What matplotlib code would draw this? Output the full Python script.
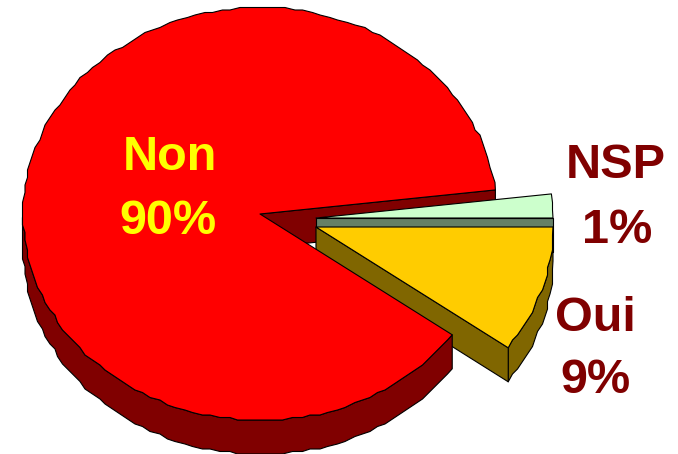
import numpy as np
import matplotlib.pyplot as plt

plt.rcParams["font.family"] = ["Liberation Sans", "DejaVu Sans"]

# apparent sweep of each slice on the tilted pie, in degrees
NON_SWEEP = 317.5
OUI_SWEEP = 35.8
NSP_SWEEP = 6.7

NON_LABEL = ["Non", "90%"]
OUI_LABEL = ["Oui", "9%"]
NSP_LABEL = ["NSP", "1%"]

RX, RY = 237, 206.5
DEPTH = 34
LW = 0.8


def arc(cx, cy, a0, a1, rx=RX):
    # outline snapped to a grid, the original has the same rough edge
    n = max(int(abs(a1 - a0) / 2.2), 1)
    t = np.radians(np.linspace(a0, a1, n + 1))
    x = cx + rx * np.cos(t)
    y = cy - RY * np.sin(t)
    x[1:-1] = np.round(x[1:-1] / 2.5) * 2.5
    y[1:-1] = np.round(y[1:-1] / 2.5) * 2.5
    return x, y


def poly(ax, x, y, color):
    ax.fill(x, y, facecolor=color, edgecolor="black", lw=LW, joinstyle="round")


def wall(ax, x, y, color):
    poly(ax, np.r_[x, x[::-1]], np.r_[y, y[::-1] + DEPTH], color)


fig = plt.figure(figsize=(6.78, 4.54), dpi=100)
ax = fig.add_axes([0, 0, 1, 1])
ax.set_xlim(0, 678)
ax.set_ylim(454, 0)
ax.axis("off")

# Non, the big slice
nx, ny = 260, 214
non_start = NSP_SWEEP
non_end = NSP_SWEEP + NON_SWEEP
ax_, ay_ = arc(nx, ny, non_start, non_end)

# inner face seen through the gap
wall(ax, np.array([nx, ax_[0]]), np.array([ny, ay_[0]]), "#800000")

# NSP, behind Oui
gx, gy = 316, 218
x, y = arc(gx, gy, 0, NSP_SWEEP)
wall(ax, np.array([gx, x[0]]), np.array([gy, y[0]]), "#668066")
poly(ax, np.r_[gx, x], np.r_[gy, y], "#CCFFCC")

# Oui
ox, oy = 316, 227
x, y = arc(ox, oy, -OUI_SWEEP, 0)
wall(ax, x, y, "#806600")
wall(ax, np.array([ox, x[0]]), np.array([oy, y[0]]), "#806600")
poly(ax, np.r_[ox, x], np.r_[oy, y], "#FFCC00")

# Non goes in front of everything
keep = np.degrees(np.arctan2(ny - ay_, (ax_ - nx))) % 360
front = (keep >= 180) | (np.arange(len(keep)) == len(keep) - 1)
wall(ax, ax_[front], ay_[front], "#800000")
poly(ax, np.r_[nx, ax_], np.r_[ny, ay_], "#FF0000")

# labels
text_kw = dict(fontsize=35, fontweight="bold", ha="center", va="baseline")
ax.text(170, 170, NON_LABEL[0], color="#FFFF00", **text_kw)
ax.text(168, 234, NON_LABEL[1], color="#FFFF00", **text_kw)
ax.text(616, 178, NSP_LABEL[0], color="#800000", **text_kw)
ax.text(617, 243, NSP_LABEL[1], color="#800000", **text_kw)
ax.text(595, 331, OUI_LABEL[0], color="#800000", **text_kw)
ax.text(595, 393, OUI_LABEL[1], color="#800000", **text_kw)

fig.savefig("out.png", dpi=100)
